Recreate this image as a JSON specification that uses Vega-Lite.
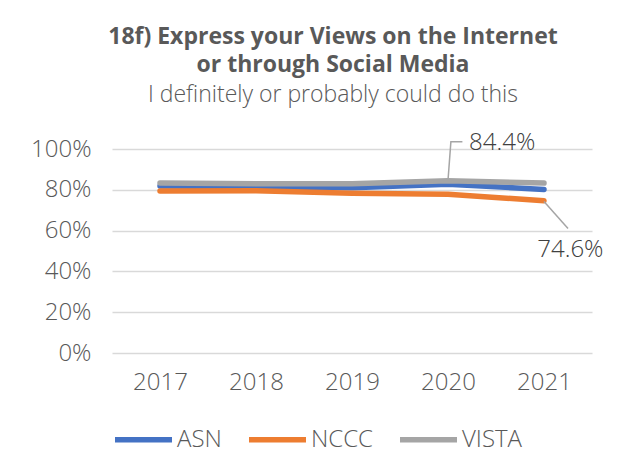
{
  "$schema": "https://vega.github.io/schema/vega-lite/v6.json",
  "autosize": {"type": "none"},
  "width": 480,
  "height": 204,
  "padding": {"left": 112, "top": 149, "right": 28, "bottom": 120},
  "background": "white",
  "title": {
    "text": ["18f) Express your Views on the Internet", "or through Social Media"],
    "subtitle": "I definitely or probably could do this",
    "anchor": "middle",
    "dx": -19,
    "font": "Open Sans",
    "fontSize": 23,
    "fontWeight": "bold",
    "color": "#595959",
    "lineHeight": 27.5,
    "subtitleFont": "Open Sans",
    "subtitleFontSize": 23,
    "subtitleFontWeight": 300,
    "subtitleColor": "#595959",
    "subtitlePadding": 7,
    "offset": 24
  },
  "config": {
    "view": {"stroke": null},
    "font": "Open Sans",
    "axis": {"labelFont": "Open Sans", "labelFontSize": 24, "labelColor": "#595959", "labelFontWeight": 300, "domain": false, "ticks": false, "title": null},
    "legend": {"labelFont": "Open Sans", "labelFontSize": 24, "labelColor": "#595959", "labelFontWeight": 300}
  },
  "datasets": {
    "series": [
      {"year": 2017, "group": "ASN", "value": 0.819},
      {"year": 2018, "group": "ASN", "value": 0.815},
      {"year": 2019, "group": "ASN", "value": 0.810},
      {"year": 2020, "group": "ASN", "value": 0.827},
      {"year": 2021, "group": "ASN", "value": 0.802},
      {"year": 2017, "group": "NCCC", "value": 0.794},
      {"year": 2018, "group": "NCCC", "value": 0.795},
      {"year": 2019, "group": "NCCC", "value": 0.783},
      {"year": 2020, "group": "NCCC", "value": 0.778},
      {"year": 2021, "group": "NCCC", "value": 0.746},
      {"year": 2017, "group": "VISTA", "value": 0.833},
      {"year": 2018, "group": "VISTA", "value": 0.830},
      {"year": 2019, "group": "VISTA", "value": 0.830},
      {"year": 2020, "group": "VISTA", "value": 0.844},
      {"year": 2021, "group": "VISTA", "value": 0.833}
    ],
    "leaders": [
      {"id": "a", "year": 2020, "value": 0.846},
      {"id": "a", "year": 2020.03, "value": 1.035},
      {"id": "a", "year": 2020.15, "value": 1.035},
      {"id": "b", "year": 2021, "value": 0.743},
      {"id": "b", "year": 2021.25, "value": 0.61}
    ],
    "labels": [
      {"year": 2020.22, "value": 1.03, "label": "84.4%"},
      {"year": 2020.93, "value": 0.505, "label": "74.6%"}
    ]
  },
  "layer": [
    {
      "data": {"name": "series"},
      "mark": {"type": "line", "strokeWidth": 5.5, "strokeCap": "round", "strokeJoin": "round"},
      "encoding": {
        "x": {"field": "year", "type": "quantitative", "scale": {"domain": [2016.5, 2021.5], "nice": false, "zero": false},
              "axis": {"values": [2017, 2018, 2019, 2020, 2021], "format": "d", "grid": false, "labelPadding": 17}},
        "y": {"field": "value", "type": "quantitative", "scale": {"domain": [0, 1], "nice": false},
              "axis": {"values": [0, 0.2, 0.4, 0.6, 0.8, 1], "format": ".0%", "grid": true, "gridColor": "#d9d9d9", "gridWidth": 1.5, "labelPadding": 21}},
        "color": {"field": "group", "type": "nominal",
                  "scale": {"domain": ["ASN", "NCCC", "VISTA"], "range": ["#4472C4", "#ED7D31", "#A5A5A5"]},
                  "legend": {"title": null, "orient": "bottom", "direction": "horizontal", "symbolType": "stroke", "symbolSize": 3249, "symbolStrokeWidth": 5.5, "labelOffset": 2, "columnPadding": 16, "offset": 14}},
        "order": {"field": "year"}
      }
    },
    {
      "data": {"name": "leaders"},
      "mark": {"type": "line", "stroke": "#A5A5A5", "strokeWidth": 1.5},
      "encoding": {
        "x": {"field": "year", "type": "quantitative"},
        "y": {"field": "value", "type": "quantitative"},
        "detail": {"field": "id"}
      }
    },
    {
      "data": {"name": "labels"},
      "mark": {"type": "text", "fontSize": 24, "color": "#404040", "font": "Open Sans", "fontWeight": 300, "baseline": "middle", "align": "left"},
      "encoding": {
        "x": {"field": "year", "type": "quantitative"},
        "y": {"field": "value", "type": "quantitative"},
        "text": {"field": "label"}
      }
    }
  ]
}
